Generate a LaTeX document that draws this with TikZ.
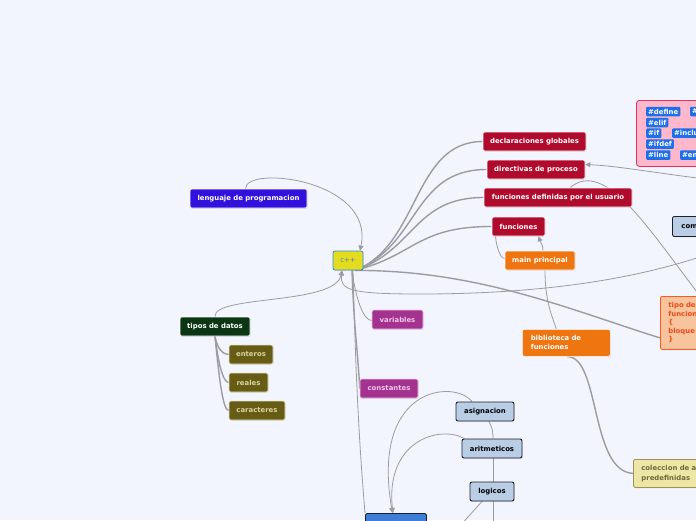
\documentclass[tikz,border=0pt]{standalone}
\usepackage{fontspec}
\setmainfont{DejaVu Sans}
\usepackage{xcolor}
\usepackage{tikz}
\usetikzlibrary{arrows.meta,backgrounds,shadows}

\definecolor{bgmap}{HTML}{F2F5FD}
\definecolor{edgegray}{HTML}{9C9CA0}
\definecolor{cppfill}{HTML}{E6DC1E}
\definecolor{cppline}{HTML}{2B8BE8}
\definecolor{cpptext}{HTML}{4E7FB8}
\definecolor{lengfill}{HTML}{3311DD}
\definecolor{redfill}{HTML}{B00B2C}
\definecolor{orangefill}{HTML}{EE7510}
\definecolor{peachfill}{HTML}{F7C49E}
\definecolor{peachline}{HTML}{FF5722}
\definecolor{peachtext}{HTML}{F04A14}
\definecolor{ltblue}{HTML}{B9CDE5}
\definecolor{darkline}{HTML}{1F1F2A}
\definecolor{colfill}{HTML}{EDE6A5}
\definecolor{colline}{HTML}{9A9456}
\definecolor{coltext}{HTML}{6E6A3A}
\definecolor{dkgreen}{HTML}{0C3514}
\definecolor{olivefill}{HTML}{665C16}
\definecolor{olivetext}{HTML}{DCD49A}
\definecolor{magfill}{HTML}{A3338F}
\definecolor{magtext}{HTML}{F2C6EC}
\definecolor{operblue}{HTML}{3E7ED8}
\definecolor{pinkfill}{HTML}{FFB7CB}
\definecolor{pinkline}{HTML}{D7375D}
\definecolor{chipblue}{HTML}{1E6FE8}

\begin{document}
\begin{tikzpicture}[x=1pt,y=-1pt]
\tikzstyle{topic} = [rectangle, rounded corners=2pt, inner sep=0pt, minimum height=19pt, font=\fontsize{6.9}{9}\selectfont\bfseries, text=white, draw=white, line width=0.6pt, drop shadow={opacity=0.18,shadow xshift=0.6pt,shadow yshift=-0.9pt}]
\tikzstyle{redtopic} = [topic, fill=redfill]
\tikzstyle{orangetopic} = [topic, fill=orangefill]
\tikzstyle{olivetopic} = [topic, fill=olivefill, text=olivetext, draw=olivetext!60]
\tikzstyle{magtopic} = [topic, fill=magfill, text=magtext, draw=magtext]
\tikzstyle{optopic} = [topic, fill=ltblue, text=black, draw=darkline, line width=0.9pt]
\tikzstyle{chip} = [rectangle, rounded corners=1pt, fill=chipblue, text=white, font=\fontsize{6.9}{8}\selectfont\bfseries, inner xsep=2pt, inner ysep=0pt, minimum height=9.5pt, anchor=west]
\tikzstyle{link} = [draw=edgegray, line width=0.8pt]
\tikzstyle{thicklink} = [draw=edgegray, line width=1.4pt]
\tikzstyle{arrowlink} = [-{Triangle[width=5pt,length=5pt]}]
%
\useasboundingbox (0,0) rectangle (696,520);

	\node[topic, fill=cppfill, draw=cppline, text=cpptext, font=\fontsize{6.9}{8}\selectfont, minimum width=30pt, line width=0.8pt] (cpp) at (348,260.5) {c++};
	\node[topic, fill=lengfill, minimum width=117pt] (lenguaje) at (248.5,198.5) {lenguaje de programacion};

	\node[redtopic, minimum width=103pt] (declar) at (534.5,141.5) {declaraciones globales};
	\node[redtopic, minimum width=98pt] (direct) at (536,169.5) {directivas de proceso};
	\node[redtopic, minimum width=148pt] (fundef) at (558,197.5) {funciones definidas por el usuario};
	\node[redtopic, minimum width=53pt] (fun) at (518.5,226.5) {funciones};
	\node[orangetopic, minimum width=70pt] (mainp) at (540,260.5) {main principal};
	\node[orangetopic, anchor=north west, text width=71pt, inner xsep=8.5pt, minimum height=27pt, align=left] (biblio) at (522,329) {biblioteca de\\funciones};

	\node[topic, fill=peachfill, draw=peachline, text=peachtext, line width=0.8pt, anchor=north west, text width=72pt, inner xsep=8pt, minimum height=53pt, align=left, font=\fontsize{6.9}{8.5}\selectfont\bfseries] (tipof) at (660,296) {tipo de\\funcion\\\{\\bloque\\\}};
	\node[optopic, anchor=north west, text width=50pt, inner xsep=9pt, minimum height=20pt, align=left] (comp) at (672,216) {com};
	\node[topic, fill=colfill, draw=colline, text=coltext, line width=0.8pt, anchor=north west, text width=80pt, inner xsep=8pt, minimum height=28pt, align=left, font=\fontsize{6.9}{9.5}\selectfont\bfseries] (coleccion) at (633,459) {coleccion de a\\predefinidas};

	% directivas
	\node[rectangle, rounded corners=3pt, fill=pinkfill, draw=pinkline, line width=0.8pt, anchor=north west, minimum width=130pt, minimum height=66pt, drop shadow={opacity=0.18,shadow xshift=0.6pt,shadow yshift=-0.9pt}] (prepro) at (636,100) {};
	\node[chip] (cdefine) at (646,111.5) {\#define};
	\node[chip] (cerror) at (690,111.5) {\#error};
	\node[chip] (celif) at (646,122.5) {\#elif};
	\node[chip] (cif) at (646,133.2) {\#if};
	\node[chip] (cinclude) at (672,133.2) {\#include};
	\node[chip] (cifdef) at (646,144) {\#ifdef};
	\node[chip] (cline) at (646,155) {\#line};
	\node[chip] (cendif) at (680,155) {\#endif};

	\node[topic, fill=dkgreen, minimum width=70pt] (tipos) at (215,326.5) {tipos de datos};
	\node[olivetopic, minimum width=44pt] (enteros) at (251,354.5) {enteros};
	\node[olivetopic, minimum width=39pt] (reales) at (248.5,382.5) {reales};
	\node[olivetopic, minimum width=56pt] (caract) at (257,410.5) {caracteres};

	\node[magtopic, minimum width=51pt] (variables) at (397.5,319.5) {variables};
	\node[magtopic, minimum width=58pt] (constantes) at (389,388.5) {constantes};

	\node[optopic, minimum width=58pt] (asig) at (485,411.5) {asignacion};
	\node[optopic, minimum width=60pt] (arit) at (492,448.5) {aritmeticos};
	\node[optopic, minimum width=44pt] (logicos) at (492,491.5) {logicos};
	\node[topic, fill=operblue, draw=darkline, line width=0.9pt, anchor=north west, minimum width=61pt, minimum height=28pt] (oper) at (365,513) {};

\coordinate (rlink) at (730,246);
\coordinate (rdir) at (730,182);
\coordinate (lbottom) at (493,545);
\coordinate (lleft) at (440,548);

\begin{pgfonlayer}{background}
\fill[bgmap] (0,0) rectangle (696,520);
%
\draw[link, arrowlink] ([xshift=-3pt]lenguaje.north) .. controls +(0,-24) and +(15,-71) .. ([xshift=12pt]cpp.north);
\draw[thicklink] ([xshift=7pt]cpp.south) .. controls +(65,-25) and +(-70,0) .. (declar.west);
\draw[thicklink] ([xshift=7pt]cpp.south) .. controls +(65,-25) and +(-75,0) .. (direct.west);
\draw[thicklink] ([xshift=7pt]cpp.south) .. controls +(60,-20) and +(-70,0) .. (fundef.west);
\draw[thicklink] ([xshift=7pt]cpp.south) .. controls +(60,-15) and +(-75,0) .. (fun.west);
\draw[thicklink] ([xshift=8pt]cpp.south) .. controls +(124,0) and +(-90,-28) .. ([yshift=-15pt]tipof.west);
\draw[link, arrowlink] (rlink) .. controls (640,282) and (530,294) .. (420,294) .. controls (350,294) and (340,290) .. ([xshift=-6pt]cpp.south);
\draw[link, arrowlink] (rdir) .. controls (660,174) and (620,166) .. ([yshift=5pt]direct.east);
\draw[link] ([xshift=40pt]tipof.north west) .. controls +(-50,-65) and +(35,-30) .. ([xshift=12pt]fundef.north);
%
\draw[link, arrowlink] ([xshift=3pt]mainp.north) .. controls +(0,-6) and +(2,6) .. ([xshift=20pt]fun.south);
\draw[link] ([xshift=-23pt]fun.south) .. controls +(1,12) and +(-4,0) .. ([yshift=2pt]mainp.west);
\draw[link] ([xshift=5pt]mainp.south) .. controls +(0,30) and +(-5,-15) .. ([xshift=-10pt]biblio.north);
\draw[thicklink] ([xshift=1pt]biblio.south) .. controls +(33,0) and +(-43,-2) .. (coleccion.west);
%
\draw[link, arrowlink] (tipos.north) .. controls +(-2,-22) and +(-7,35) .. ([xshift=-6pt]cpp.south);
\draw[thicklink] (tipos.south) .. controls +(2,12) and +(-6,0) .. (enteros.west);
\draw[thicklink] (tipos.south) .. controls +(3,25) and +(-6,0) .. (reales.west);
\draw[thicklink] (tipos.south) .. controls +(4,40) and +(-6,0) .. (caract.west);
%
\draw[link] ([xshift=4pt]cpp.south) .. controls +(4,30) and +(-8,0) .. ([yshift=-1pt]variables.west);
\draw[thicklink] ([xshift=4pt]cpp.south) .. controls +(2,60) and +(-2,-40) .. (constantes.west);
\draw[link] ([xshift=5pt]cpp.south) .. controls +(3,120) and +(-5,-60) .. (oper.north west);
%
\draw[link, arrowlink] ([xshift=-13pt]asig.north) .. controls +(-17,-22) and +(-22,-128) .. ([xshift=-3.5pt]oper.north);
\draw[link, arrowlink] ([xshift=3pt]arit.north west) .. controls +(-25,-14) and +(-8,-72) .. ([xshift=-3pt]oper.north);
\draw[link] ([xshift=4pt]asig.south) .. controls +(3,6) and +(0,-8) .. ([xshift=1pt]arit.north);
\draw[link] ([xshift=1pt]arit.south) -- ([xshift=1pt]logicos.north);
\draw[link] ([xshift=1pt]logicos.south) -- (lbottom);
\draw[link] ([xshift=-10pt]logicos.south) -- (lleft);
\end{pgfonlayer}
\end{tikzpicture}
\end{document}
